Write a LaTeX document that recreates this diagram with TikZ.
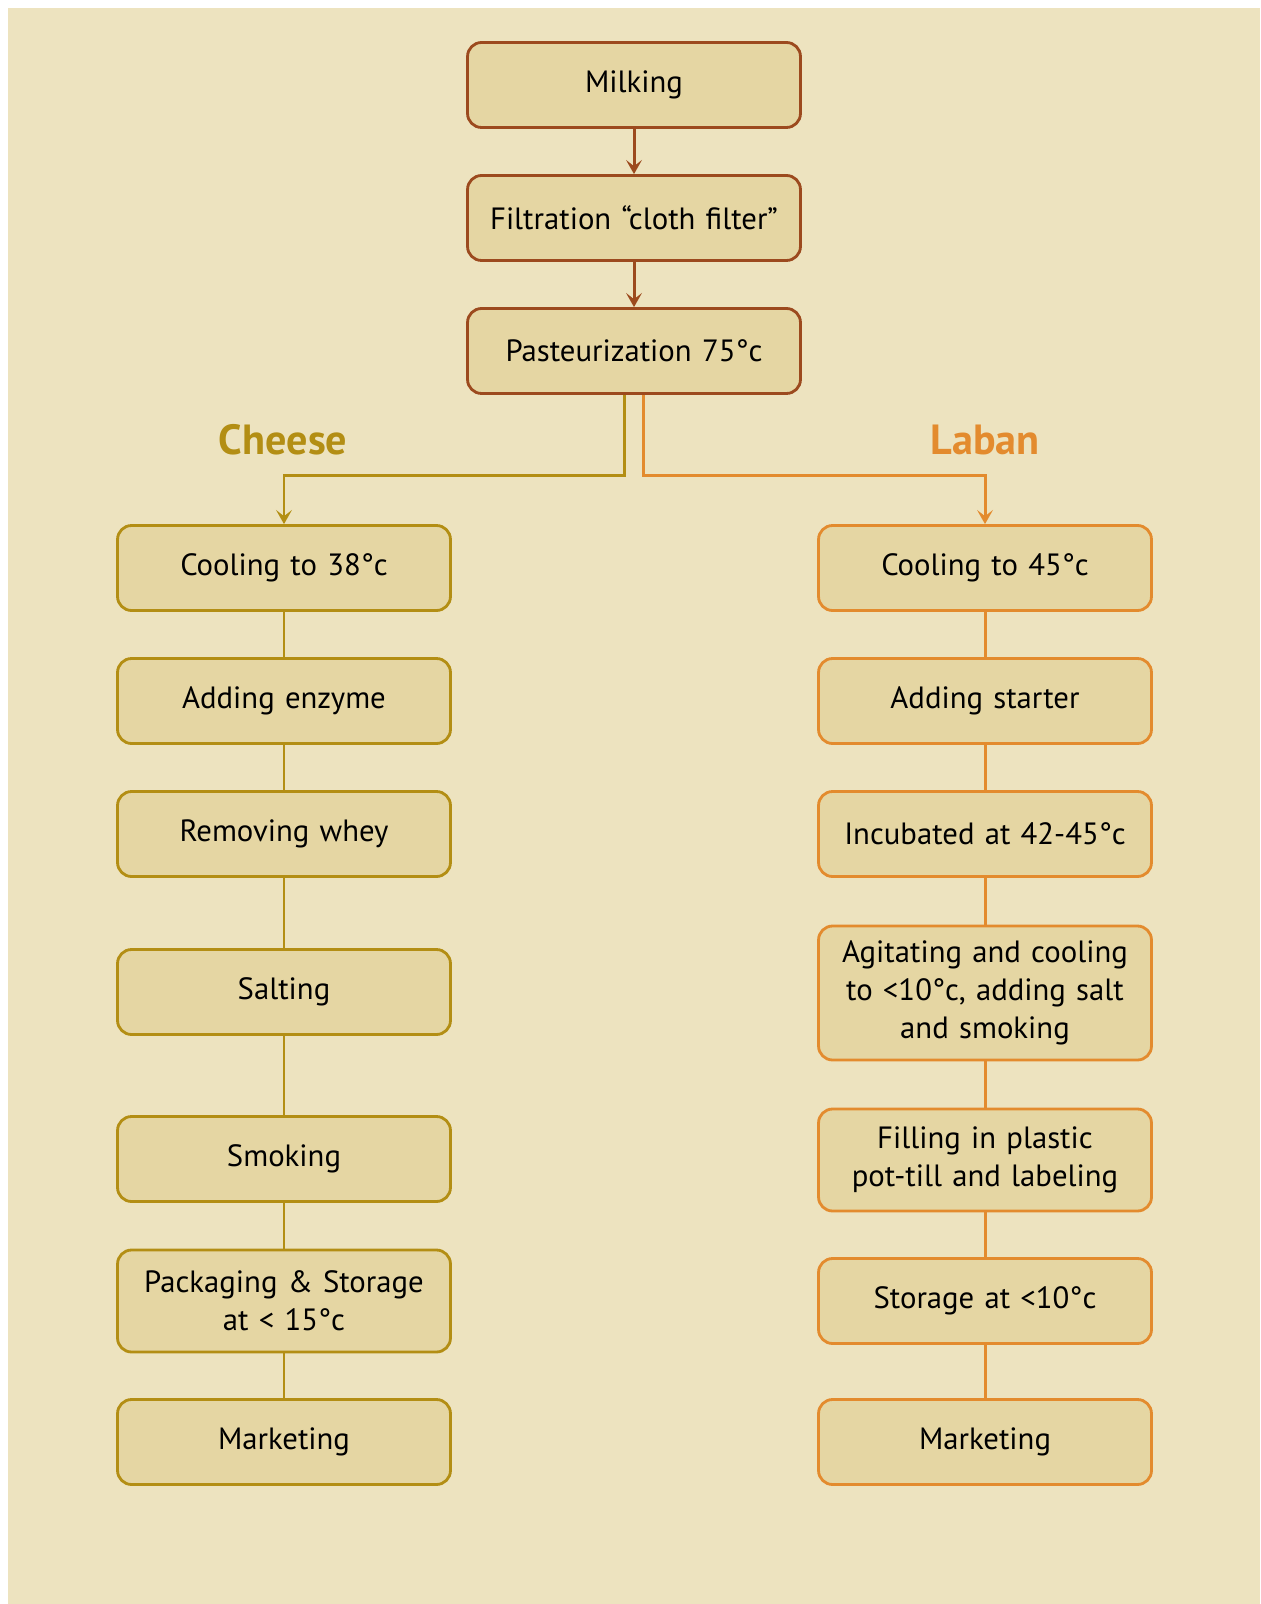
\documentclass[tikz,border=0pt]{standalone}
\usepackage{fontspec}
\setmainfont[WordSpace=0.8]{PT Sans}
\usepackage{xcolor}
\usetikzlibrary{arrows.meta}

\definecolor{paper}{HTML}{EDE3BF}
\definecolor{boxfill}{HTML}{E5D6A3}
\definecolor{milkbrown}{HTML}{9C4A1E}
\definecolor{cheesegold}{HTML}{B38E14}
\definecolor{labanorange}{HTML}{E38B2E}

\begin{document}
\begin{tikzpicture}[x=0.02cm,y=-0.02cm,
  step box/.style={draw,rounded corners=0.28cm,fill=boxfill,line width=1.6pt,
    minimum width=6.66cm,minimum height=1.7cm,text width=6.3cm,align=center,
    font=\fontsize{17.5}{21.5}\selectfont},
  milk/.style={step box,draw=milkbrown},
  chz/.style={step box,draw=cheesegold},
  lab/.style={step box,draw=labanorange},
  link/.style={line width=1.7pt},
  tip/.style={-{Stealth[length=8pt,width=9pt,inset=3.5pt]}},
  branch/.style={font=\fontsize{24}{28}\selectfont\bfseries}]
\useasboundingbox (0,0) rectangle (1260,1604);
\fill[paper] (8,8) rectangle (1260,1604);

% common trunk
\node[milk] (milking) at (634,85) {Milking};
\node[milk] (filter) at (634,218) {Filtration “cloth filter”};
\node[milk] (past) at (634,351) {Pasteurization 75°c};

\draw[link,tip,milkbrown] (milking) -- (filter);
\draw[link,tip,milkbrown] (filter) -- (past);

\node[branch,text=cheesegold] (cheese) at (283,440) {Cheese};
\node[branch,text=labanorange] (laban) at (985,440) {Laban};

% cheese
\node[chz] (c1) at (284,568) {Cooling to 38°c};
\node[chz] (c2) at (284,701) {Adding enzyme};
\node[chz] (c3) at (284,834) {Removing whey};
\node[chz] (c4) at (284,992) {Salting};
\node[chz] (c5) at (284,1159) {Smoking};
\node[chz,minimum height=2.04cm] (c6) at (284,1301) {Packaging \& Storage\\at < 15°c};
\node[chz] (c7) at (284,1442) {Marketing};

% laban
\node[lab] (l1) at (985,568) {Cooling to 45°c};
\node[lab] (l2) at (985,701) {Adding starter};
\node[lab] (l3) at (985,834) {Incubated at 42-45°c};
\node[lab,minimum height=2.68cm] (l4) at (985,993) {Agitating and cooling\\to <10°c, adding salt\\and smoking};
\node[lab,minimum height=2.04cm] (l5) at (985,1160) {Filling in plastic\\pot-till and labeling};
\node[lab] (l6) at (985,1301) {Storage at <10°c};
\node[lab] (l7) at (985,1442) {Marketing};

\draw[link,tip,cheesegold] ([xshift=-0.19cm]past.south) -- ++(0,81) -| (c1);
\draw[link,tip,labanorange] ([xshift=0.19cm]past.south) -- ++(0,81) -| (l1);

\foreach \a/\b in {c1/c2,c2/c3,c3/c4,c4/c5,c5/c6,c6/c7}
  \draw[link,cheesegold] (\a) -- (\b);
\foreach \a/\b in {l1/l2,l2/l3,l3/l4,l4/l5,l5/l6,l6/l7}
  \draw[link,labanorange] (\a) -- (\b);
\end{tikzpicture}
\end{document}
